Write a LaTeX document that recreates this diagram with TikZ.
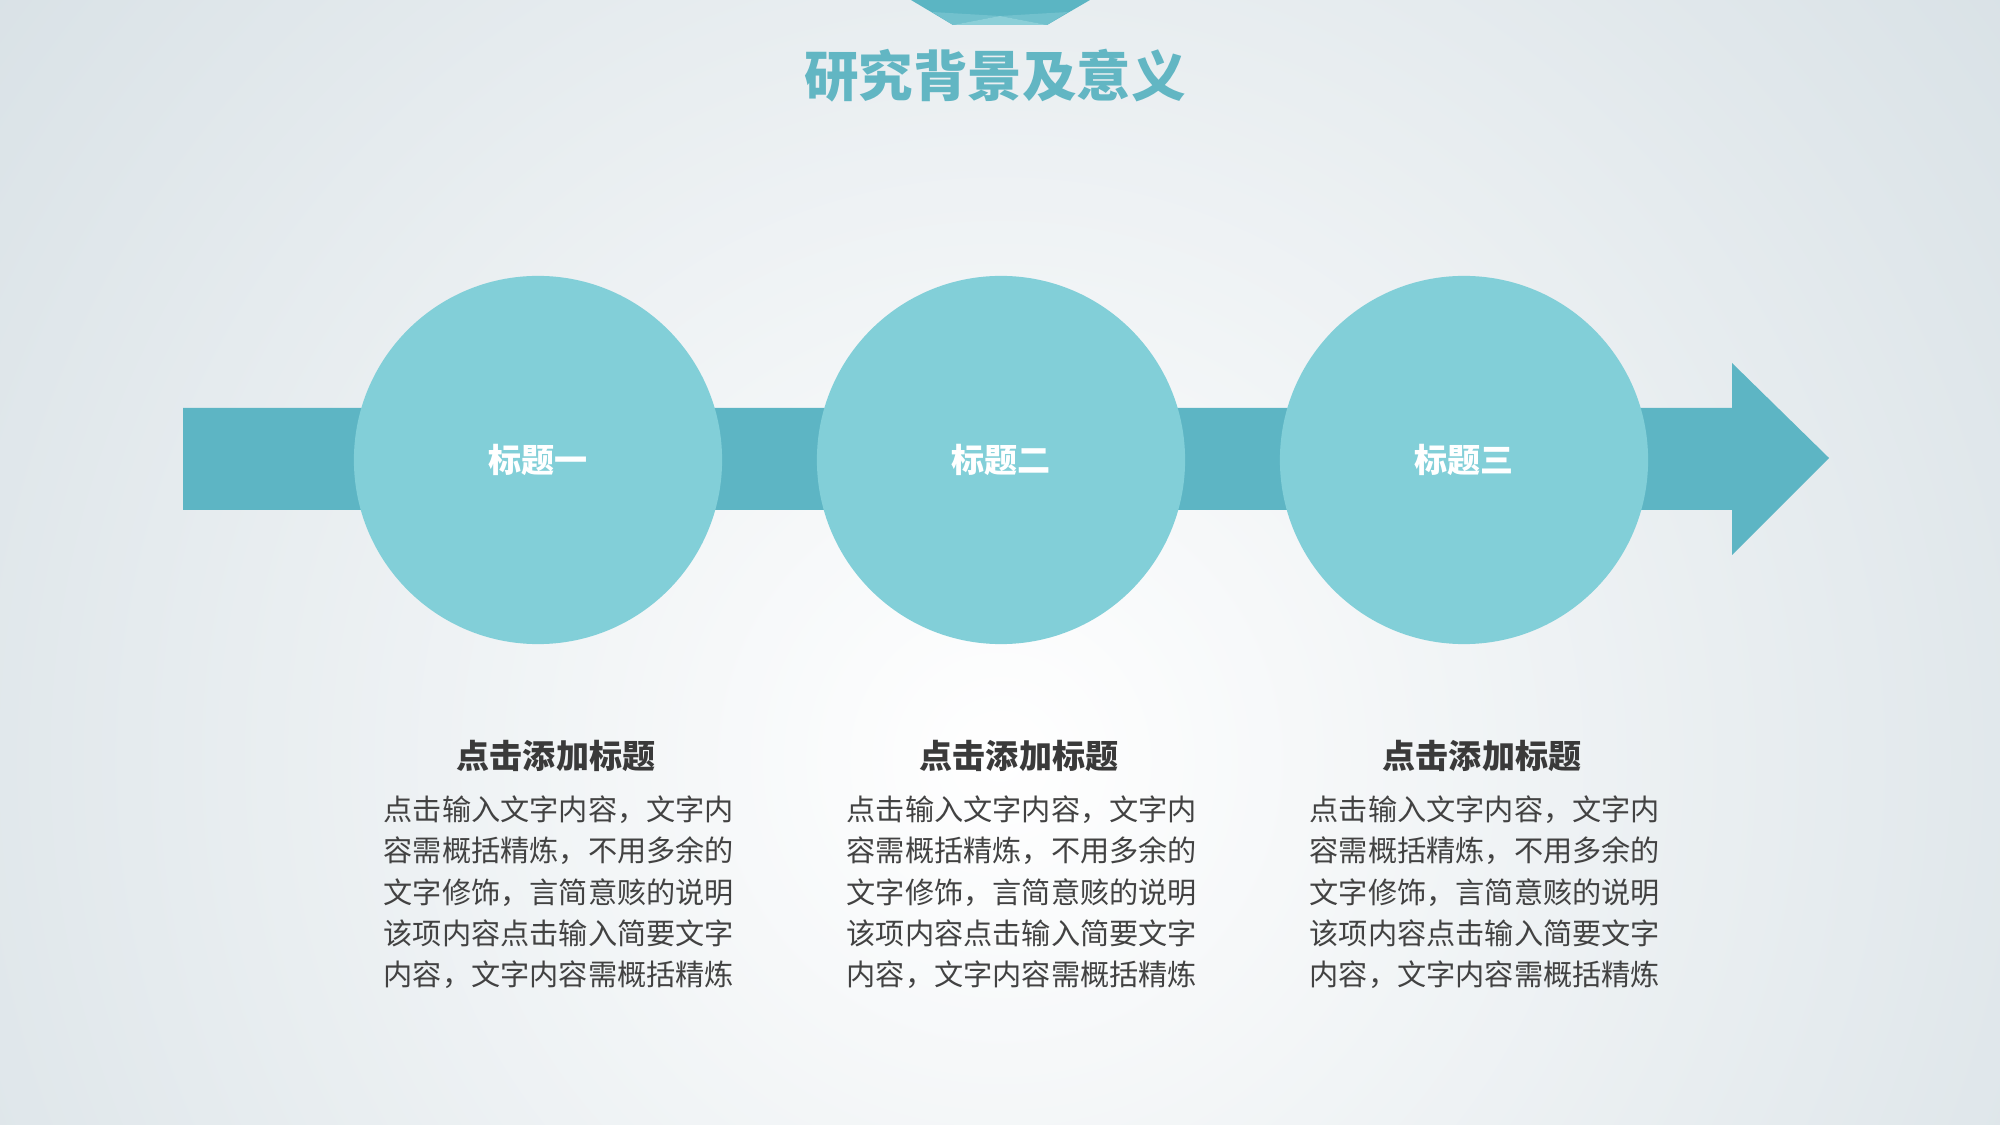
\documentclass[tikz,border=0pt]{standalone}
\usepackage{fontspec}
\newfontfamily\cjk{Noto Sans CJK SC}
\definecolor{bgout}{HTML}{C6D3DA}
\definecolor{arrowfill}{HTML}{5DB5C4}
\definecolor{discfill}{HTML}{82CFD8}
\definecolor{titlecol}{HTML}{62B6C3}
\definecolor{gemdark}{HTML}{5BB5C3}
\definecolor{gemmid}{HTML}{72C1CD}
\definecolor{gemlight}{HTML}{8CCFD8}
\definecolor{headcol}{HTML}{3A3A3A}
\definecolor{bodycol}{HTML}{424242}
\begin{document}
\begin{tikzpicture}[x=0.01cm, y=-0.01cm,
        disc/.style={circle, fill=discfill, minimum size=3.68cm, inner sep=0pt, text=white,
            font=\cjk\bfseries\fontsize{9.4}{11}\selectfont},
        heading/.style={inner sep=0pt, text=headcol, font=\cjk\bfseries\fontsize{9.4}{11}\selectfont},
        bodytext/.style={inner sep=0pt, anchor=north west, align=left, text=bodycol,
            font=\cjk\fontsize{8.3}{11.75}\selectfont}]
            \useasboundingbox (0,0) rectangle (2000,1125);
            % background
            \begin{scope}
                \clip (0,0) rectangle (2000,1125);
                \shade[inner color=white, outer color=bgout] (-900,-1140) rectangle (2900,2660);
            \end{scope}
            % top gem
            \path[fill=gemdark] (911,0) -- (1090,0) -- (1047,25) -- (953,25) -- cycle;
            \path[fill=gemmid] (932,12) -- (1000,16) -- (953,25) -- cycle;
            \path[fill=gemmid] (1068,12) -- (1000,16) -- (1047,25) -- cycle;
            \path[fill=gemlight] (953,25) -- (1000,16) -- (1047,25) -- cycle;
            \node[inner sep=0pt, text=titlecol, font=\cjk\bfseries\fontsize{15.5}{18}\selectfont] (title) at (995,76) {研究背景及意义};
            % arrow
            \path[fill=arrowfill] (183,408) -- (1732,408) -- (1732,363) -- (1829,458) -- (1732,555) -- (1732,510) -- (183,510) -- cycle;
            \foreach \i/\num in {1/一,2/二,3/三}
                {
                    \node[disc] (c\i) at ({538+463*(\i-1)},460) {标题\num};
                    \node[heading] (head\i) at ({556+463*(\i-1)},756) {点击添加标题};
                    \node[bodytext] (body\i) at ({383+463*(\i-1)},795)
                        {点击输入文字内容，文字内\\容需概括精炼，不用多余的\\文字修饰，言简意赅的说明\\该项内容点击输入简要文字\\内容，文字内容需概括精炼};
                }
        \end{tikzpicture}
\end{document}
